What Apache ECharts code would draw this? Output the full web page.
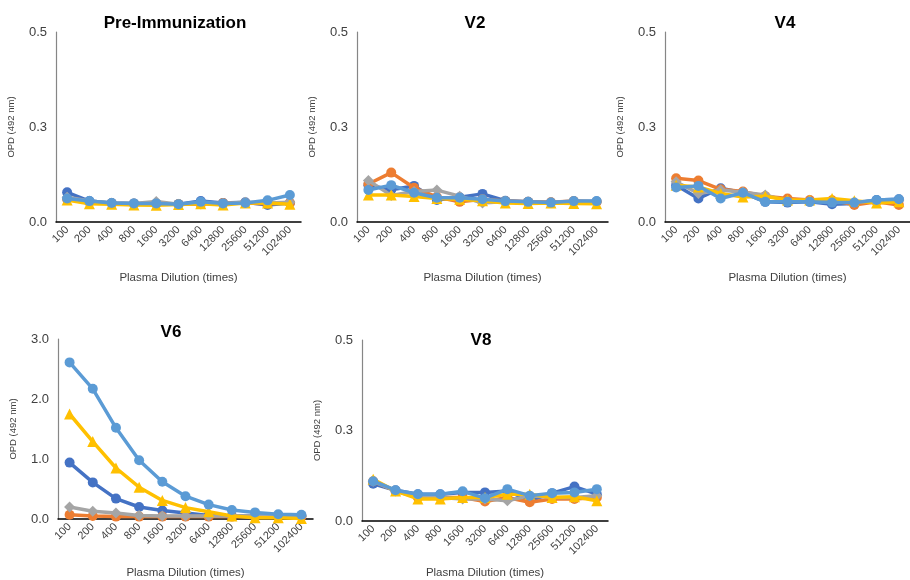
<!DOCTYPE html>
<html>
<head>
<meta charset="utf-8">
<script src="https://cdn.jsdelivr.net/npm/echarts@6/dist/echarts.min.js"></script>
<style>
  html, body { margin: 0; padding: 0; background: #fff; }
  #chart { width: 910px; height: 580px; }
</style>
</head>
<body>
<div id="chart"></div>
<script>
// Plasma dilution factors (x categories)
const dilutions = ['100', '200', '400', '800', '1600', '3200', '6400', '12800', '25600', '51200', '102400'];

// Series names / colours / markers
const seriesNames = ['S1', 'S2', 'S3', 'S4', 'S5'];
const seriesColors = ['#4472C4', '#ED7D31', '#A5A5A5', '#FFC000', '#5B9BD5'];
const seriesSymbols = ['circle', 'circle', 'diamond', 'triangle', 'circle'];

// OPD (492 nm) readings per visit, one array per series
const preS1 = [0.078, 0.055, 0.050, 0.049, 0.048, 0.047, 0.055, 0.050, 0.052, 0.045, 0.050];
const preS2 = [0.060, 0.052, 0.049, 0.048, 0.048, 0.047, 0.047, 0.050, 0.050, 0.048, 0.050];
const preS3 = [0.065, 0.055, 0.050, 0.049, 0.054, 0.047, 0.050, 0.049, 0.052, 0.050, 0.052];
const preS4 = [0.058, 0.048, 0.047, 0.045, 0.044, 0.046, 0.048, 0.045, 0.050, 0.050, 0.047];
const preS5 = [0.062, 0.055, 0.050, 0.049, 0.049, 0.047, 0.053, 0.049, 0.050, 0.057, 0.071];

const v2S1 = [0.097, 0.085, 0.095, 0.058, 0.065, 0.074, 0.056, 0.053, 0.051, 0.054, 0.054];
const v2S2 = [0.100, 0.130, 0.090, 0.066, 0.053, 0.060, 0.055, 0.053, 0.052, 0.055, 0.053];
const v2S3 = [0.109, 0.070, 0.080, 0.084, 0.068, 0.050, 0.054, 0.052, 0.051, 0.054, 0.052];
const v2S4 = [0.071, 0.071, 0.067, 0.062, 0.060, 0.056, 0.050, 0.049, 0.050, 0.049, 0.048];
const v2S5 = [0.084, 0.097, 0.077, 0.064, 0.064, 0.060, 0.055, 0.053, 0.051, 0.055, 0.055];

const v4S1 = [0.097, 0.062, 0.089, 0.077, 0.053, 0.051, 0.053, 0.047, 0.049, 0.058, 0.060];
const v4S2 = [0.115, 0.109, 0.086, 0.080, 0.068, 0.062, 0.058, 0.057, 0.045, 0.053, 0.045];
const v4S3 = [0.106, 0.075, 0.084, 0.078, 0.071, 0.055, 0.056, 0.054, 0.052, 0.056, 0.058];
const v4S4 = [0.097, 0.092, 0.075, 0.066, 0.068, 0.058, 0.058, 0.062, 0.056, 0.050, 0.053];
const v4S5 = [0.091, 0.095, 0.062, 0.077, 0.053, 0.053, 0.053, 0.051, 0.051, 0.058, 0.060];

const v6S1 = [0.94, 0.61, 0.34, 0.20, 0.14, 0.10, 0.06, 0.05, 0.05, 0.05, 0.05];
const v6S2 = [0.07, 0.05, 0.04, 0.04, 0.04, 0.04, 0.04, 0.04, 0.04, 0.04, 0.04];
const v6S3 = [0.20, 0.13, 0.10, 0.06, 0.05, 0.05, 0.05, 0.05, 0.05, 0.05, 0.05];
const v6S4 = [1.75, 1.29, 0.85, 0.53, 0.31, 0.19, 0.12, 0.05, 0.02, 0.02, 0.01];
const v6S5 = [2.61, 2.17, 1.52, 0.98, 0.62, 0.38, 0.24, 0.15, 0.11, 0.08, 0.07];

const v8S1 = [0.103, 0.085, 0.074, 0.074, 0.079, 0.079, 0.083, 0.056, 0.077, 0.095, 0.074];
const v8S2 = [0.110, 0.083, 0.065, 0.065, 0.065, 0.054, 0.065, 0.052, 0.061, 0.061, 0.065];
const v8S3 = [0.110, 0.083, 0.070, 0.065, 0.061, 0.061, 0.056, 0.070, 0.065, 0.065, 0.070];
const v8S4 = [0.115, 0.083, 0.061, 0.061, 0.065, 0.065, 0.074, 0.074, 0.065, 0.067, 0.056];
const v8S5 = [0.110, 0.085, 0.074, 0.074, 0.082, 0.063, 0.088, 0.070, 0.077, 0.079, 0.088];

// Panel titles and y-axis ranges
const panelTitles = ['Pre-Immunization', 'V2', 'V4', 'V6', 'V8'];
const panelYMax = [0.5, 0.5, 0.5, 3, 0.5];
const panelYStep = [0.25, 0.25, 0.25, 1, 0.25];
const panelData = [
  [preS1, preS2, preS3, preS4, preS5],
  [v2S1, v2S2, v2S3, v2S4, v2S5],
  [v4S1, v4S2, v4S3, v4S4, v4S5],
  [v6S1, v6S2, v6S3, v6S4, v6S5],
  [v8S1, v8S2, v8S3, v8S4, v8S5]
];

// Layout of each small chart
const grids = [
  { left: 56, top: 32, width: 245, height: 190 },
  { left: 357, top: 32, width: 251, height: 190 },
  { left: 665, top: 32, width: 252, height: 190 },
  { left: 58, top: 339, width: 255, height: 181 },
  { left: 362, top: 340, width: 246, height: 184 }
];
const titlePos = [
  { left: 170, top: 10 },
  { left: 470, top: 10 },
  { left: 780, top: 10 },
  { left: 166, top: 319 },
  { left: 476, top: 327 }
];
const xNameGaps = [50, 50, 50, 48, 46];

const font = 'Liberation Sans, Arial, sans-serif';

const option = {
  animation: false,
  backgroundColor: '#fff',
  title: titlePos.map((t, i) => ({
    text: panelTitles[i],
    left: t.left,
    top: t.top,
    textAlign: 'center',
    textStyle: { fontFamily: font, fontWeight: 'bold', fontSize: 17, color: '#000' }
  })),
  grid: grids.map(g => ({ left: g.left, top: g.top, width: g.width, height: g.height, containLabel: false })),
  xAxis: grids.map((g, i) => ({
    type: 'category',
    gridIndex: i,
    data: dilutions,
    boundaryGap: true,
    name: 'Plasma Dilution (times)',
    nameLocation: 'middle',
    nameGap: xNameGaps[i],
    nameTextStyle: { fontFamily: font, fontSize: 11.5, color: '#404040' },
    axisLine: { lineStyle: { color: '#000', width: 1.5 } },
    axisTick: { show: false },
    axisLabel: { rotate: 45, interval: 0, fontFamily: font, fontSize: 11, color: '#404040', margin: 6 },
    splitLine: { show: false }
  })),
  yAxis: grids.map((g, i) => ({
    type: 'value',
    gridIndex: i,
    min: 0,
    max: panelYMax[i],
    interval: panelYStep[i],
    name: 'OPD (492 nm)',
    nameLocation: 'middle',
    nameGap: 40,
    nameTextStyle: { fontFamily: font, fontSize: 9.5, color: '#404040' },
    axisLine: { show: true, lineStyle: { color: '#868686', width: 1.2 } },
    axisTick: { show: false },
    axisLabel: { fontFamily: font, fontSize: 13, color: '#404040', margin: 9, formatter: v => v.toFixed(1) },
    splitLine: { show: false }
  })),
  series: []
};

panelData.forEach((sets, p) => {
  sets.forEach((vals, s) => {
    option.series.push({
      type: 'line',
      name: seriesNames[s],
      xAxisIndex: p,
      yAxisIndex: p,
      data: vals,
      symbol: seriesSymbols[s],
      symbolSize: seriesSymbols[s] === 'circle' ? 10 : 11,
      color: seriesColors[s],
      lineStyle: { width: 3.5, color: seriesColors[s] },
      itemStyle: { color: seriesColors[s] },
      z: 2 + s
    });
  });
});

const chart = echarts.init(document.getElementById('chart'), null, { renderer: 'canvas' });
chart.setOption(option);
</script>
</body>
</html>
